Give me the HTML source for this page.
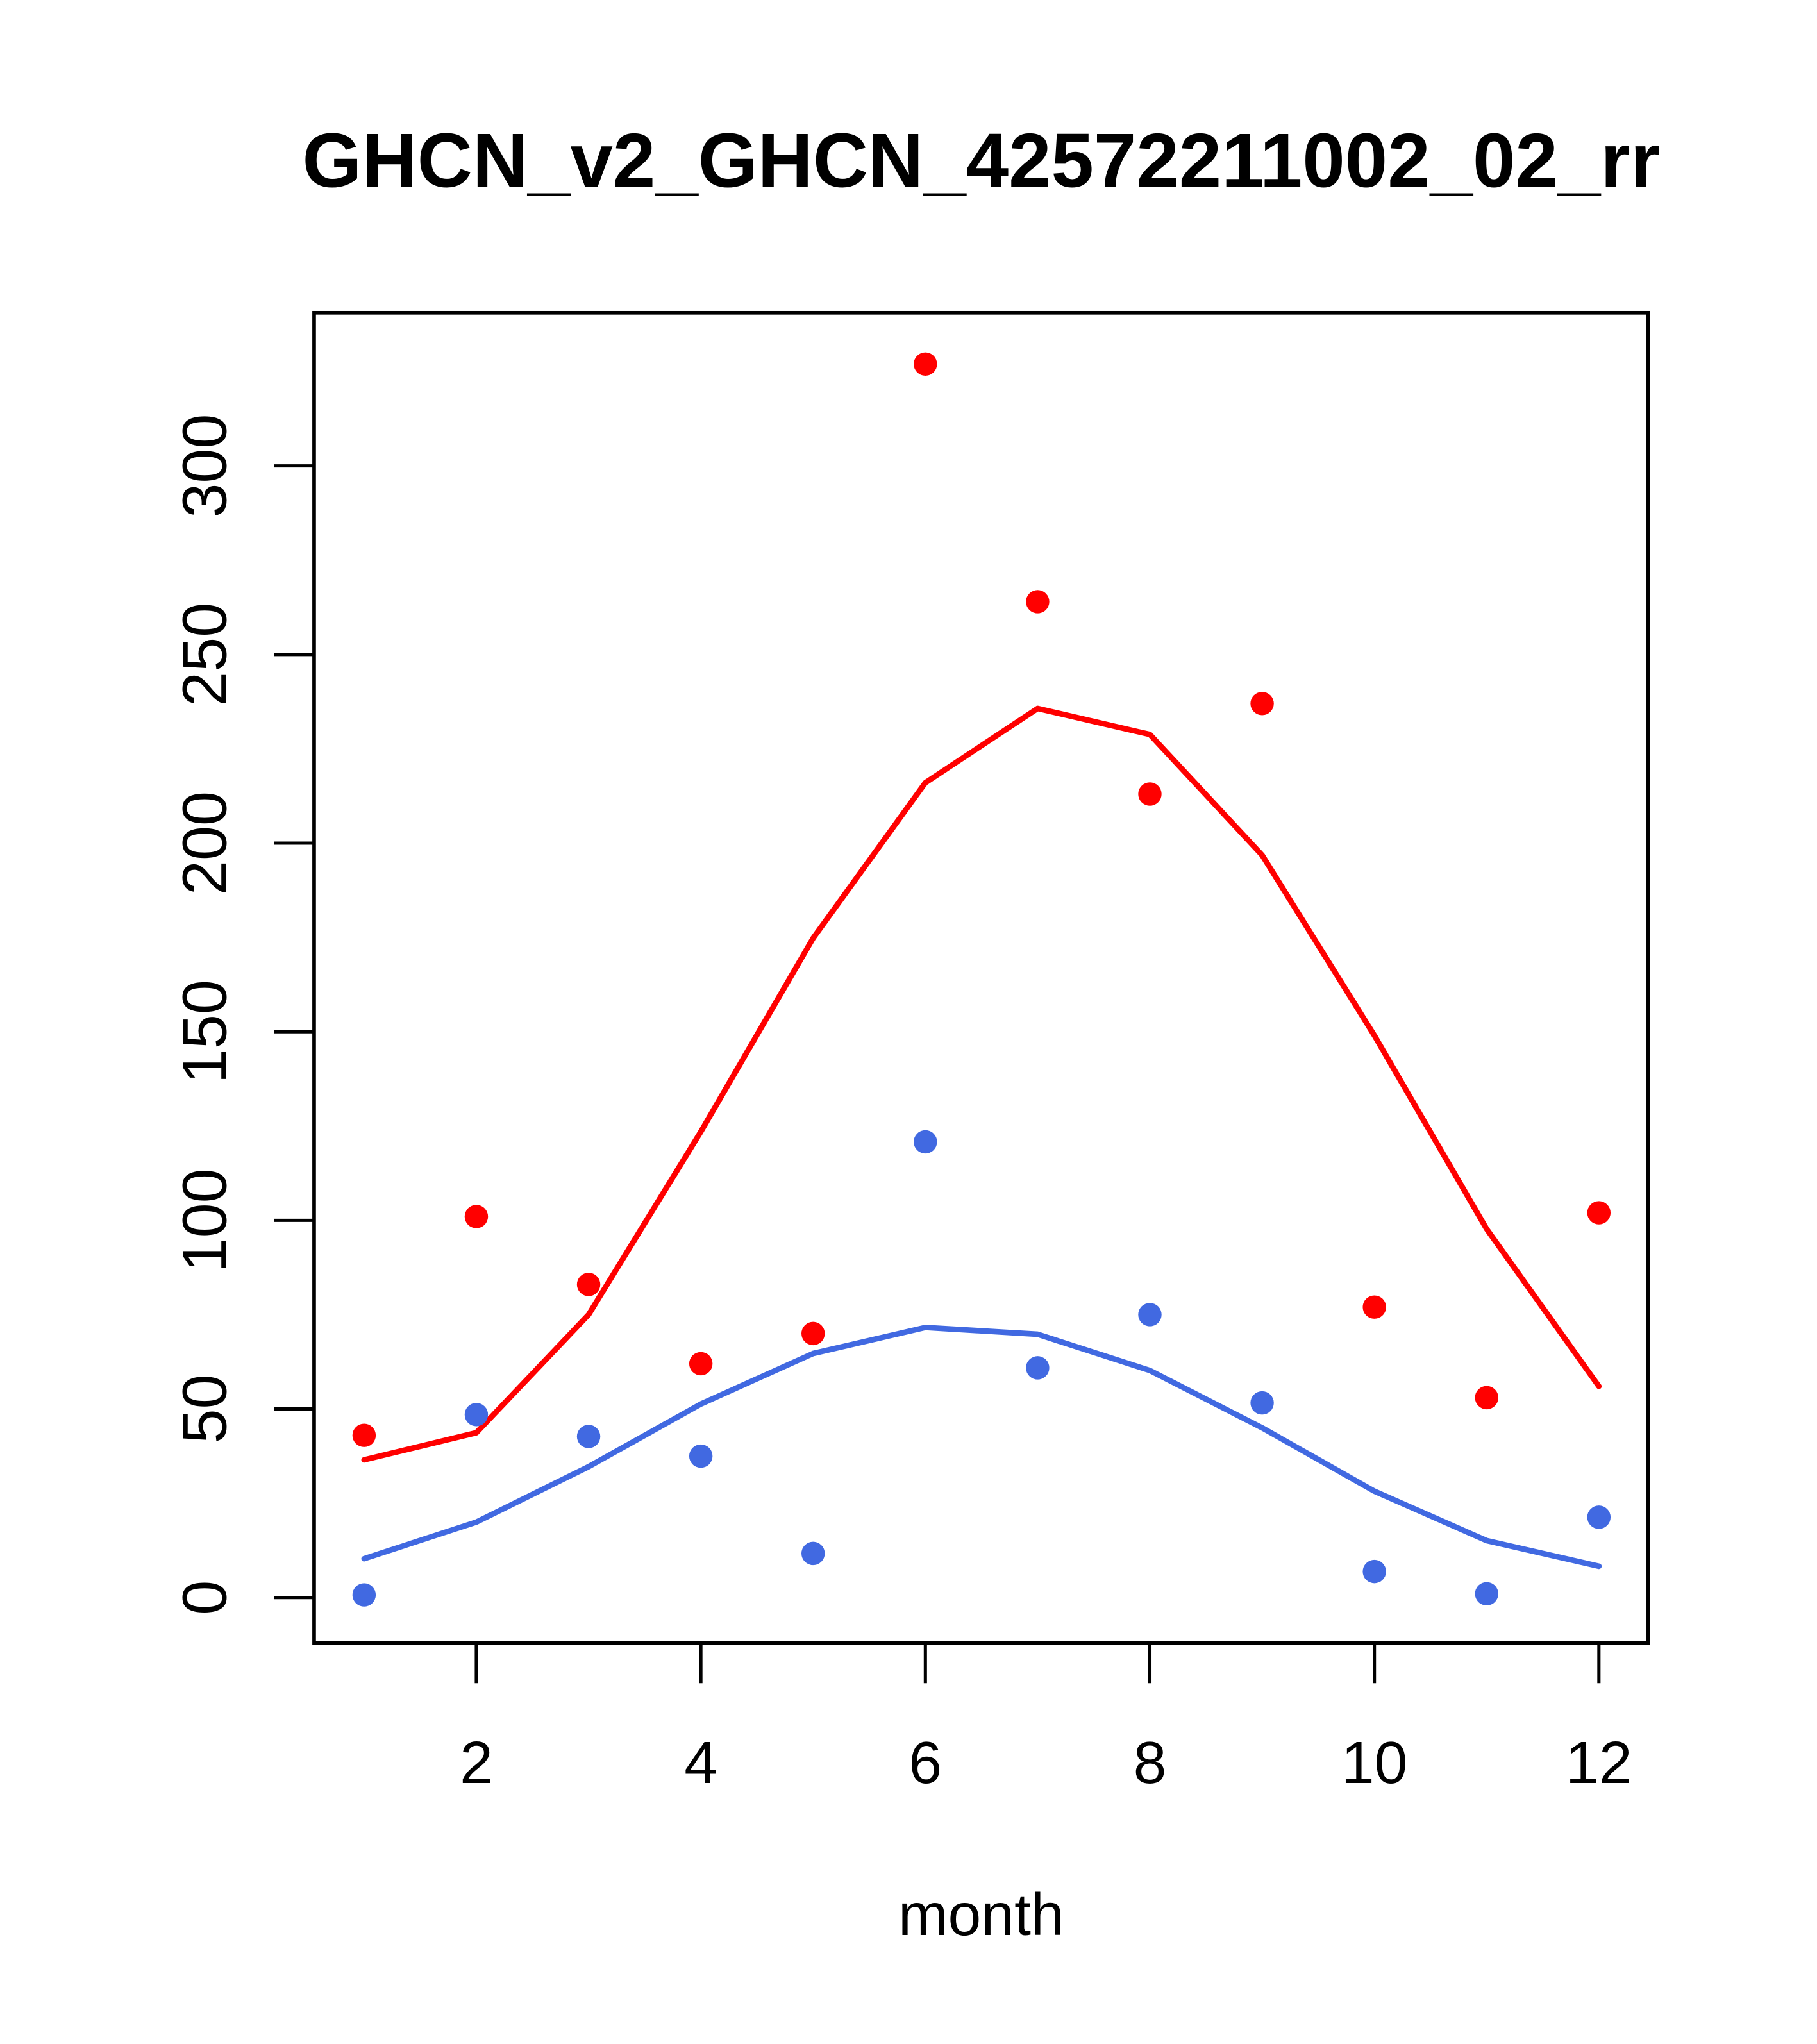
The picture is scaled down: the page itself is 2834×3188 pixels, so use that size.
<!DOCTYPE html>
<html><head><meta charset="utf-8"><style>html,body{margin:0;padding:0;background:#fff}svg{display:block}</style></head>
<body>
<svg id="chart" width="2834" height="3188" viewBox="0 0 1400 1575" xmlns="http://www.w3.org/2000/svg" font-family="Liberation Sans, sans-serif">
<rect width="1400" height="1575" fill="#fff"/>
<text x="756" y="144" text-anchor="middle" font-size="59" font-weight="bold">GHCN_v2_GHCN_42572211002_02_rr</text>
<text x="756" y="1491" text-anchor="middle" font-size="46">month</text>
<g id="plot"></g>
</svg>
<script>
const months=[1,2,3,4,5,6,7,8,9,10,11,12];
const redPoints=[43,101,83,62,70,327,264,213,237,77,53,102];
const redLine=[36.5,43.7,75,123.5,174.8,216,235.7,228.8,196.8,149,97.7,56];
const bluePoints=[0.7,48.5,42.7,37.5,11.7,120.8,60.9,75,51.6,6.9,1,21.3];
const blueLine=[10.3,20,34.7,51.3,64.7,71.6,69.8,60.2,45,28.2,15.1,8.3];
const xTicks=[2,4,6,8,10,12];
const yTicks=[0,50,100,150,200,250,300];

const NS='http://www.w3.org/2000/svg';
const g=document.getElementById('plot');
function X(m){return 280.5+(m-1)*86.5;}
function Y(v){return 1231-v*2.9067;}
function mk(t,a){const e=document.createElementNS(NS,t);for(const k in a)e.setAttribute(k,a[k]);g.appendChild(e);return e;}

let box=mk('rect',{x:242,y:241,width:1028,height:1025,fill:'none',stroke:'#000','stroke-width':2.8});



xTicks.forEach(t=>{
  let l=mk('line',{x1:X(t),x2:X(t),y1:1266,y2:1297,stroke:'#000','stroke-width':2.5});
  
  
  let tx=mk('text',{x:X(t),y:1374,'text-anchor':'middle','font-size':46});
  tx.textContent=t;
  
  
});
yTicks.forEach(t=>{
  let l=mk('line',{x1:211,x2:242,y1:Y(t),y2:Y(t),stroke:'#000','stroke-width':2.5});
  
  
  let tx=mk('text',{x:0,y:0,'text-anchor':'middle','font-size':48,transform:'translate(174,'+Y(t)+') rotate(-90)'});
  tx.textContent=t;
  
  
});

function line(vals,col,name){
  let p=mk('polyline',{points:months.map((m,i)=>X(m)+','+Y(vals[i])).join(' '),fill:'none',stroke:col,'stroke-width':4.3,'stroke-linejoin':'round','stroke-linecap':'round'});
  
  
}
function pts(vals,col,name){
  months.forEach((m,i)=>{
    let c=mk('circle',{cx:X(m),cy:Y(vals[i]),r:9,fill:col});
    
    
  });
}
line(redLine,'#ff0000','red-line');
line(blueLine,'#4169e1','blue-line');
pts(redPoints,'#ff0000','red-point');
pts(bluePoints,'#4169e1','blue-point');
</script>
</body></html>
